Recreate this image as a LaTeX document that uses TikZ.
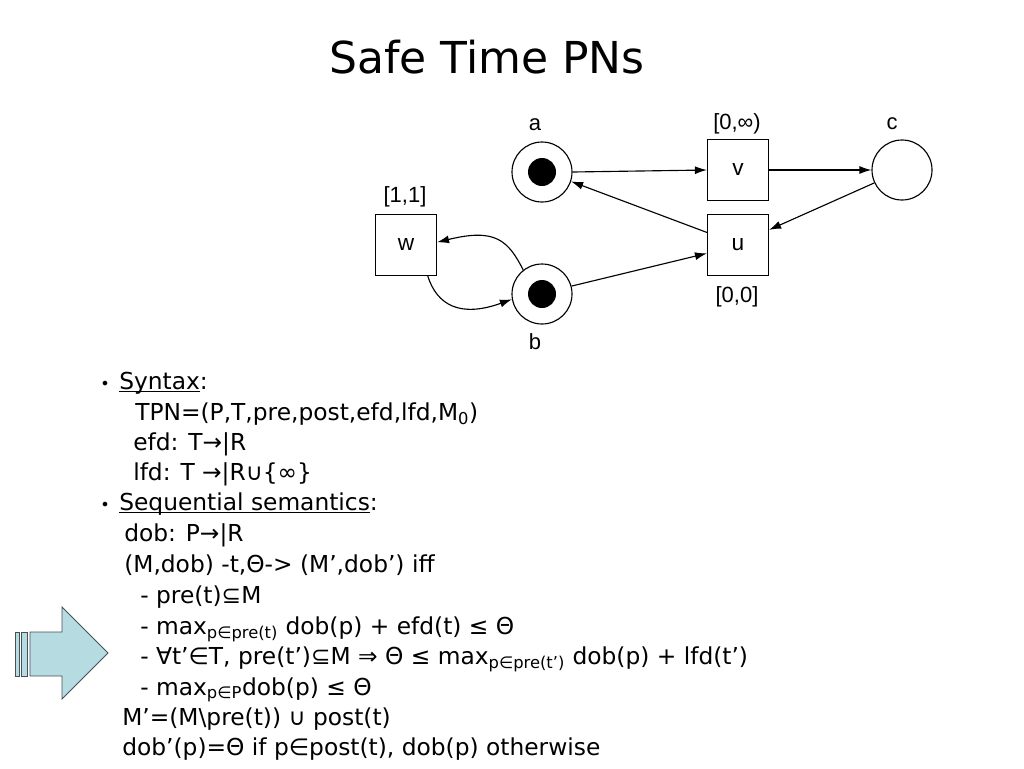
\documentclass[tikz,border=0pt]{standalone}
\usepackage{fontspec}
\setmainfont{DejaVu Sans}
\newfontfamily\netfont{Liberation Sans}
\usetikzlibrary{arrows.meta}
\newcommand\myul[1]{\setbox0\hbox{#1}\rlap{\rule[-2.4pt]{\wd0}{0.9pt}}\box0}
\definecolor{arrowfill}{RGB}{182,220,226}
\definecolor{arrowline}{RGB}{70,80,85}
\tikzset{
  place/.style={circle,draw,line width=0.85pt,minimum size=45pt,inner sep=0pt},
  trans/.style={rectangle,draw,line width=0.85pt,minimum size=45.75pt,inner sep=0pt,font=\netfont\fontsize{17}{19}\selectfont},
  token/.style={circle,fill=black,minimum size=21pt,inner sep=0pt},
  netlabel/.style={font=\netfont\fontsize{16.5}{18}\selectfont,inner sep=0pt},
  arc/.style={line width=0.85pt,-{Latex[length=9pt,width=6pt]}},
  txt/.style={anchor=base west,inner sep=0pt,font=\fontsize{17.5}{21}\selectfont},
  bul/.style={anchor=base west,inner sep=0pt,font=\fontsize{12}{14}\selectfont},
}
\begin{document}
\begin{tikzpicture}[x=0.75pt,y=-0.75pt]
\useasboundingbox (0,0) rectangle (1024,768);
% title
\node[inner sep=0pt,font=\fontsize{33}{40}\selectfont] (title) at (487,57) {Safe Time PNs};
% net
\node[place] (a) at (542,172) {};
\node[token] (ta) at (a) {};
\node[place] (b) at (542,294) {};
\node[token] (tb) at (b) {};
\node[place] (c) at (902,170) {};
\node[trans] (v) at (738,170) {v};
\node[trans] (u) at (738,245) {u};
\node[trans] (w) at (406,245) {w};
\node[netlabel] (la) at (535,125) {a};
\node[netlabel] (lb) at (535,342) {b};
\node[netlabel] (lc) at (892,124) {c};
\node[netlabel] (lv) at (737,124) {[0,∞)};
\node[netlabel] (lu) at (737,297) {[0,0]};
\node[netlabel] (lw) at (405,197) {[1,1]};
\draw[arc] (a.east) -- (v.west);
\draw[arc] (v.east) -- (c.west);
\draw[arc] (c.205) -- (u.26);
\draw[arc] (u.158) -- (a.-18);
\draw[arc] (b.15) -- (u.195);
\draw[arc] (b.128) .. controls (508,240) and (495,228) .. (w.5);
\draw[arc] (w.-55) .. controls (437,305) and (460,318) .. (b.190);
% block arrow
\draw[arrowline,fill=arrowfill,line width=0.6pt] (15,632) rectangle (19,676);
\draw[arrowline,fill=arrowfill,line width=0.6pt] (21,632) rectangle (27,676);
\draw[arrowline,fill=arrowfill,line width=0.6pt] (30,632) -- (62,632) -- (62,607) -- (108,653) -- (62,699) -- (62,676) -- (30,676) -- cycle;
% text
\node[bul] (b1) at (100,389) {•};
\node[txt] (t1) at (119,389) {\myul{Syntax}:};
\node[txt] (t2) at (135,420) {TPN=(P,T,pre,post,efd,lfd,M\textsubscript{0})};
\node[txt] (t3) at (133,450) {efd: T→|R};
\node[txt] (t4) at (133,480) {lfd: T →|R∪\{∞\}};
\node[bul] (b2) at (100,510) {•};
\node[txt] (t5) at (119,510) {\myul{Sequential semantics}:};
\node[txt] (t6) at (124,541) {dob: P→|R};
\node[txt] (t7) at (124,572) {(M,dob) -t,Θ-> (M’,dob’) iff};
\node[txt] (t8) at (140,603) {- pre(t)⊆M};
\node[txt] (t9) at (140,634) {- max\textsubscript{p∈pre(t)} dob(p) + efd(t) ≤ Θ};
\node[txt] (t10) at (140,664) {- ∀t’∈T, pre(t’)⊆M ⇒ Θ ≤ max\textsubscript{p∈pre(t’)} dob(p) + lfd(t’)};
\node[txt] (t11) at (140,695) {- max\textsubscript{p∈P}dob(p) ≤ Θ};
\node[txt] (t12) at (122,725) {M’=(M\textbackslash pre(t)) ∪ post(t)};
\node[txt] (t13) at (122,755) {dob’(p)=Θ if p∈post(t), dob(p) otherwise};
\end{tikzpicture}
\end{document}
